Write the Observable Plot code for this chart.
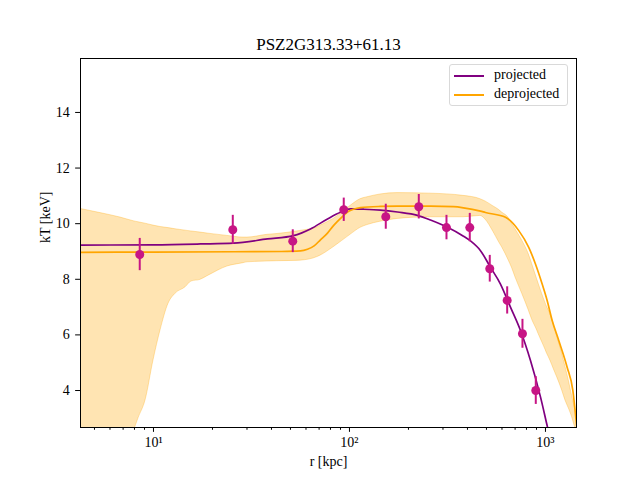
<!DOCTYPE html>
<html>
<head>
<meta charset="utf-8">
<script src="https://cdn.jsdelivr.net/npm/d3@7"></script>
<script src="https://cdn.jsdelivr.net/npm/@observablehq/plot@0.6"></script>
<style>
  body { margin: 0; background: #fff; }
  #wrap { position: relative; width: 640px; height: 480px; font-family: "Liberation Serif", serif; }
  #legend { position: absolute; left: 449px; top: 64px; width: 119px; height: 42px;
            border: 1px solid #d9d9d9; border-radius: 3px; background: rgba(255,255,255,0.8);
            font-size: 14px; box-sizing: border-box; font-family: "Liberation Serif", serif; }
  .item { position: absolute; left: 0; height: 18px; }
  .swatch { position: absolute; left: 4px; width: 30px; height: 0; border-top: 2px solid; }
  .lab { position: absolute; left: 44px; top: -9px; white-space: nowrap; line-height: 18px; }
</style>
</head>
<body>
<div id="wrap"></div>
<script>
// ---- data ----
const title = "PSZ2G313.33+61.13";
const xTitle = "r [kpc]";
const yTitle = "kT [keV]";

// measured points (projected temperature)
const rPts = [8.51, 25.39, 51.37, 93.5, 153.2, 225.8, 312.6, 411, 519.8, 637.8, 763.2, 892.5];
const tPts = [8.89, 9.78, 9.37, 10.5, 10.25, 10.61, 9.86, 9.86, 8.38, 7.24, 6.04, 4.0];
const tErr = [0.58, 0.52, 0.41, 0.42, 0.45, 0.44, 0.44, 0.51, 0.48, 0.49, 0.52, 0.50];

// projected model curve
const rProj = [4.243, 10, 17.37, 25.6, 38.15, 51.8, 63.24, 77.24, 89.97, 101.2, 117.9, 143.9, 175.8, 222.3, 259, 316.2, 381.6, 414.3, 466.1, 524.2, 589.4, 662.8, 745.6, 838.6, 943, 1023.8, 1100];
const tProj = [9.23, 9.24, 9.27, 9.30, 9.45, 9.57, 9.81, 10.17, 10.41, 10.53, 10.52, 10.49, 10.42, 10.30, 10.13, 9.87, 9.55, 9.38, 9.03, 8.43, 7.83, 7.0, 6.16, 5.08, 3.77, 2.69, 1.76];

// deprojected model curve
const rDeproj = [4.243, 10, 25.6, 45, 56.23, 61.06, 66, 71.12, 77.24, 82.88, 86.87, 93.2, 97.7, 104.8, 113.8, 143.9, 175.8, 259, 339.4, 381.6, 466.1, 494.2, 625.2, 730.9, 821.6, 889, 962, 1020, 1082, 1169, 1290, 1380, 1440, 1500];
const tDeproj = [8.97, 8.98, 8.99, 9.0, 9.02, 9.08, 9.2, 9.42, 9.66, 9.93, 10.08, 10.29, 10.42, 10.52, 10.58, 10.62, 10.63, 10.63, 10.61, 10.57, 10.45, 10.4, 10.23, 9.75, 9.15, 8.55, 7.83, 7.24, 6.52, 5.8, 4.84, 4.0, 2.8, 1.8];

// deprojected uncertainty band
const rBand = [4.243, 5.365, 6.785, 8.0, 8.386, 9.105, 10, 10.86, 11.93, 12.95, 14.57, 15.63, 17.37, 19.08, 23.85, 28.8, 30.17, 38.15, 42.93, 51.8, 56.23, 68.65, 71.12, 82.88, 101.2, 113.8, 123.5, 143.9, 175.8, 259, 381.6, 466, 494, 543, 578, 601, 650, 676, 703, 761, 822, 855, 907, 924, 1000, 1020, 1040, 1125, 1147, 1217, 1265, 1315, 1368, 1406, 1423, 1480];
const tBandLo = [1.0, 1.0, 1.0, 2.6, 3.0, 3.64, 5.08, 6.16, 7.12, 7.48, 7.71, 7.92, 7.98, 8.13, 8.46, 8.58, 8.61, 8.64, 8.65, 8.66, 8.67, 8.8, 8.85, 9.15, 9.6, 9.85, 9.95, 10.07, 10.17, 10.23, 10.23, 10.28, 10.15, 9.7, 9.35, 9.15, 8.67, 8.4, 8.07, 7.48, 6.88, 6.55, 6.16, 6.02, 5.47, 5.32, 5.2, 4.62, 4.48, 4.0, 3.64, 3.36, 3.04, 2.75, 2.65, 2.2];
const tBandHi = [10.53, 10.38, 10.22, 10.08, 10.05, 10.0, 9.93, 9.88, 9.84, 9.8, 9.75, 9.72, 9.68, 9.64, 9.56, 9.5, 9.5, 9.6, 9.63, 9.7, 9.74, 9.87, 9.93, 10.17, 10.64, 10.88, 10.95, 11.05, 11.1, 11.08, 11.0, 10.88, 10.8, 10.62, 10.5, 10.4, 10.2, 9.99, 9.8, 9.39, 8.9, 8.55, 8.0, 7.83, 7.15, 7.0, 6.88, 6.16, 5.95, 5.32, 4.85, 4.36, 3.8, 3.45, 3.28, 2.6];

// axes ticks
const yTicks = [4, 6, 8, 10, 12, 14];
const xMajor = [10, 100, 1000];
const xMajorLabels = ["10\u00B9", "10\u00B2", "10\u00B3"];
const xMinor = [5, 6, 7, 8, 9, 20, 30, 40, 50, 60, 70, 80, 90, 200, 300, 400, 500, 600, 700, 800, 900];

// legend
const seriesNames = ["projected", "deprojected"];
const seriesColors = ["#800080", "#FFA500"];

// ---- build tables ----
const points = rPts.map((r, i) => ({r, t: tPts[i], e: tErr[i]}));
const proj = rProj.map((r, i) => ({r, t: tProj[i]}));
const deproj = rDeproj.map((r, i) => ({r, t: tDeproj[i]}));
const band = rBand.map((r, i) => ({r, lo: tBandLo[i], hi: tBandHi[i]}));

const FONT = "'Liberation Serif', serif";

const chart = Plot.plot({
  width: 640, height: 480,
  marginLeft: 80, marginRight: 64, marginTop: 58, marginBottom: 53,
  style: {fontFamily: FONT, fontSize: "14px", background: "white", color: "black"},
  x: {type: "log", domain: [4.243, 1440]},
  y: {domain: [2.67, 15.94]},
  marks: [
    Plot.areaY(band, {x: "r", y1: "lo", y2: "hi", fill: seriesColors[1], fillOpacity: 0.3,
                      stroke: seriesColors[1], strokeOpacity: 0.3, strokeWidth: 1, clip: true, curve: "monotone-x"}),
    Plot.line(proj, {x: "r", y: "t", stroke: seriesColors[0], strokeWidth: 1.7, clip: true, curve: "monotone-x"}),
    Plot.line(deproj, {x: "r", y: "t", stroke: seriesColors[1], strokeWidth: 1.7, clip: true, curve: "monotone-x"}),
    Plot.ruleX(points, {x: "r", y1: d => d.t - d.e, y2: d => d.t + d.e, stroke: "#C71585", strokeWidth: 2}),
    Plot.dot(points, {x: "r", y: "t", r: 4.5, fill: "#C71585", stroke: "none"}),
    Plot.axisY({ticks: yTicks, tickSize: 4.86, tickPadding: 6, tickFormat: d => String(d), label: null}),
    Plot.axisX({ticks: xMinor, tickSize: 2.78, tickFormat: () => "", label: null}),
    Plot.axisX({ticks: xMajor, tickSize: 4.86, tickPadding: 5, tickFormat: d => xMajorLabels[xMajor.indexOf(d)], label: null}),
    Plot.frame({stroke: "black", strokeWidth: 1}),
    Plot.text([title], {text: d => d, frameAnchor: "top", lineAnchor: "middle", dy: -14, fontSize: 17}),
    Plot.text([xTitle], {text: d => d, frameAnchor: "bottom", lineAnchor: "middle", dy: 34}),
    Plot.text([yTitle], {text: d => d, frameAnchor: "left", lineAnchor: "middle", dx: -35, rotate: -90})
  ]
});

const wrap = document.getElementById("wrap");
wrap.appendChild(chart);

const legend = document.createElement("div");
legend.id = "legend";
seriesNames.forEach((name, i) => {
  const item = document.createElement("div");
  item.className = "item";
  item.style.top = (10 + i * 19) + "px";
  const sw = document.createElement("div");
  sw.className = "swatch";
  sw.style.borderTopColor = seriesColors[i];
  const lab = document.createElement("div");
  lab.className = "lab";
  lab.textContent = name;
  item.appendChild(sw);
  item.appendChild(lab);
  legend.appendChild(item);
});
wrap.appendChild(legend);
</script>
</body>
</html>
